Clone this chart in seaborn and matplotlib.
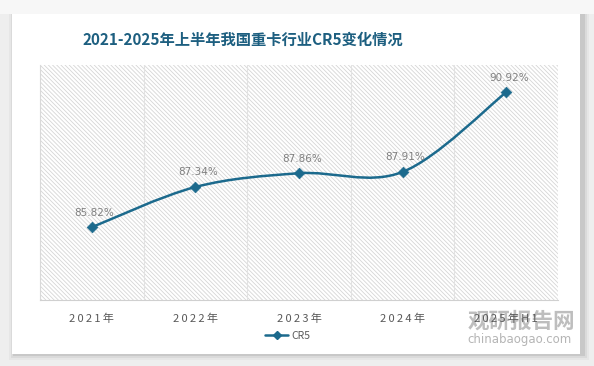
import matplotlib
matplotlib.use("Agg")
import matplotlib.pyplot as plt
import seaborn as sns
import numpy as np
import pandas as pd
from matplotlib.path import Path
from matplotlib.patches import PathPatch, Rectangle
from matplotlib.lines import Line2D

categories = ["2021年", "2022年", "2023年", "2024年", "2025年H1"]
cr5 = [85.82, 87.34, 87.86, 87.91, 90.92]
series_name = "CR5"
title = "2021-2025年上半年我国重卡行业CR5变化情况"

sns.set_theme(style="white")
plt.rcParams['font.family'] = ['Noto Sans CJK SC', 'DejaVu Sans']
plt.rcParams['hatch.color'] = '#d6d6d6'
plt.rcParams['hatch.linewidth'] = 0.6

W, H = 594, 366
fig = plt.figure(figsize=(W / 100, H / 100), dpi=100)
fig.patch.set_facecolor('#eeeeee')

# card with soft shadow
for i, a in enumerate([0.03, 0.05, 0.08]):
    d = 6 - 2 * i
    fig.patches.append(Rectangle(((12 - d + 3) / W, 1 - (354 + d) / H), (568 + 2 * d) / W, (340 + 2 * d) / H,
                                 transform=fig.transFigure, facecolor='black', alpha=a, edgecolor='none', zorder=0))
fig.patches.append(Rectangle((0, 1 - 14 / H), 1, 14 / H, transform=fig.transFigure,
                             facecolor='#f7f7f7', edgecolor='none', zorder=0.5))
fig.patches.append(Rectangle((12 / W, 1 - 354 / H), 568 / W, 340 / H, transform=fig.transFigure,
                             facecolor='white', edgecolor='none', zorder=1))

ax = fig.add_axes([40 / W, 1 - 300 / H, 518 / W, 235 / H])
ax.set_facecolor('none')
ax.set_zorder(2)

df = pd.DataFrame({"x": np.arange(len(categories)), "y": cr5})
ax.set_xlim(-0.5, len(categories) - 0.5)
ax.set_ylim(83.07, 91.95)

# hatched plot area
ax.add_patch(Rectangle((0, 0), 1, 1, transform=ax.transAxes, facecolor='white',
                       hatch='\\' * 8, edgecolor='#d6d6d6', linewidth=0, zorder=0))

# vertical gridlines at category boundaries
for b in np.arange(0.5, len(categories) - 0.5, 1.0):
    ax.axvline(b, color='#e2e2e2', lw=0.8, zorder=0.5)

# smooth curve (Catmull-Rom -> cubic Bezier) through data points
pts = df[["x", "y"]].to_numpy(dtype=float)
ext = np.vstack([pts[0], pts, pts[-1]])
verts = [tuple(pts[0])]
codes = [Path.MOVETO]
for i in range(1, len(ext) - 2):
    p0, p1, p2, p3 = ext[i - 1], ext[i], ext[i + 1], ext[i + 2]
    c1 = p1 + (p2 - p0) / 6.0
    c2 = p2 - (p3 - p1) / 6.0
    verts += [tuple(c1), tuple(c2), tuple(p2)]
    codes += [Path.CURVE4] * 3
line_color = '#1c6a8d'
ax.add_patch(PathPatch(Path(verts, codes), facecolor='none', edgecolor=line_color, lw=1.8, zorder=3))

sns.scatterplot(data=df, x="x", y="y", marker='D', s=30, color=line_color, edgecolor=line_color,
                ax=ax, zorder=4, legend=False)

for xi, yi in zip(df["x"], df["y"]):
    ax.annotate(f"{yi:.2f}%", (xi, yi), xytext=(2, 7), textcoords='offset points',
                ha='center', va='bottom', fontsize=7.5, color='#808080',
                family=['DejaVu Sans'], zorder=5)

ax.set_xticks(df["x"])
ax.set_xticklabels(["\u2009".join(list(c)) for c in categories], fontsize=8, color='#595959')
ax.tick_params(axis='x', length=0, pad=10)
ax.set_yticks([])
ax.set_xlabel("")
ax.set_ylabel("")
for s in ['top', 'right']:
    ax.spines[s].set_visible(False)
ax.spines['left'].set_color('#d9d9d9')
ax.spines['bottom'].set_color('#d0d0d0')
ax.spines['left'].set_linewidth(0.8)
ax.spines['bottom'].set_linewidth(0.8)

handle = Line2D([], [], color=line_color, lw=1.8, marker='D', markersize=4)
leg = fig.legend([handle], [series_name], loc='center', bbox_to_anchor=(288 / W, 1 - 336 / H),
                 frameon=False, fontsize=7.5, handlelength=2.2, handletextpad=0.3)
for t in leg.get_texts():
    t.set_color('#595959')

fig.text(243 / W, 1 - 40 / H, title, ha='center', va='center', fontsize=11, fontweight='bold',
         color='#1d5f80', zorder=5)

# watermark
fig.text(521 / W, 1 - 321 / H, "观研报告网", ha='center', va='center', fontsize=15.5, fontweight='bold',
         color='#a8a8a8', alpha=0.75, zorder=1.5)
fig.text(520 / W, 1 - 340 / H, "chinabaogao.com", ha='center', va='center', fontsize=8.5,
         color='#a8a8a8', alpha=0.85, zorder=1.5, family=['DejaVu Sans'])

fig.savefig("out.png", dpi=100, facecolor=fig.get_facecolor())
